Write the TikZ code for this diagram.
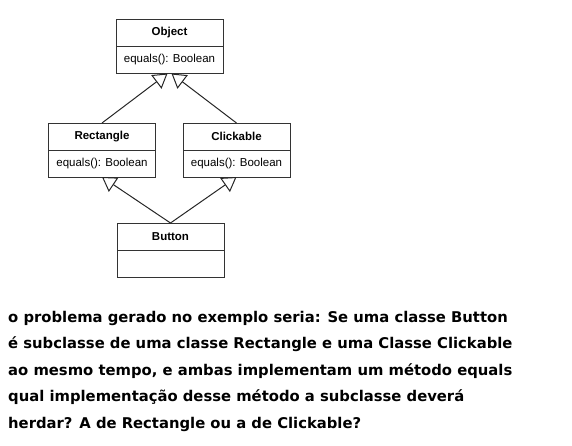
\documentclass[tikz,border=0pt]{standalone}
\usepackage{fontspec}
\setmainfont{Liberation Sans}
\newfontfamily\notefont{DejaVu Sans}
\usepackage{tikz}
\usetikzlibrary{arrows.meta,positioning}

\begin{document}
\begin{tikzpicture}[
  x=1pt, y=1pt, font=\fontsize{11.5}{13}\selectfont,
  head/.style={draw=black!80, line width=1pt, minimum width=107pt, minimum height=27pt, inner sep=0pt, outer sep=0pt, font=\fontsize{11.5}{13}\selectfont\bfseries},
  body/.style={draw=black!80, line width=1pt, minimum width=107pt, minimum height=27pt, inner sep=0pt, outer sep=0pt},
  inherit/.style={draw=black!85, line width=1pt, -{Triangle[open, length=14pt, width=17pt]}},
]
  \useasboundingbox (0,0) rectangle (572,-445);

  % classes
  \node[head] (obj) at (169.5,-33) {Object};
  \node[body, below=0pt of obj] (objm) {equals(): Boolean};

  \node[head] (rect) at (102,-136.5) {Rectangle};
  \node[body, below=0pt of rect] (rectm) {equals(): Boolean};

  \node[head] (click) at (236.5,-136.5) {Clickable};
  \node[body, below=0pt of click] (clickm) {equals(): Boolean};

  \node[head] (btn) at (170.5,-236.5) {Button};
  \node[body, below=0pt of btn] (btnm) {};

  % generalisations
  \draw[inherit] (rect.north) -- ([xshift=-2pt]objm.south);
  \draw[inherit] (click.north) -- ([xshift=2pt]objm.south);
  \draw[inherit] (btn.north) -- (rectm.south);
  \draw[inherit] (btn.north) -- (clickm.south);

  % question
  \node[anchor=north west, inner sep=0pt, align=left,
        font=\notefont\bfseries\fontsize{14.8}{26.5}\selectfont] (txt) at (8,-311)
    {o problema gerado no exemplo seria: Se uma classe Button\\
     é subclasse de uma classe Rectangle e uma Classe Clickable\\
     ao mesmo tempo, e ambas implementam um método equals\\
     qual implementação desse método a subclasse deverá\\
     herdar? A de Rectangle ou a de Clickable?};
\end{tikzpicture}
\end{document}
